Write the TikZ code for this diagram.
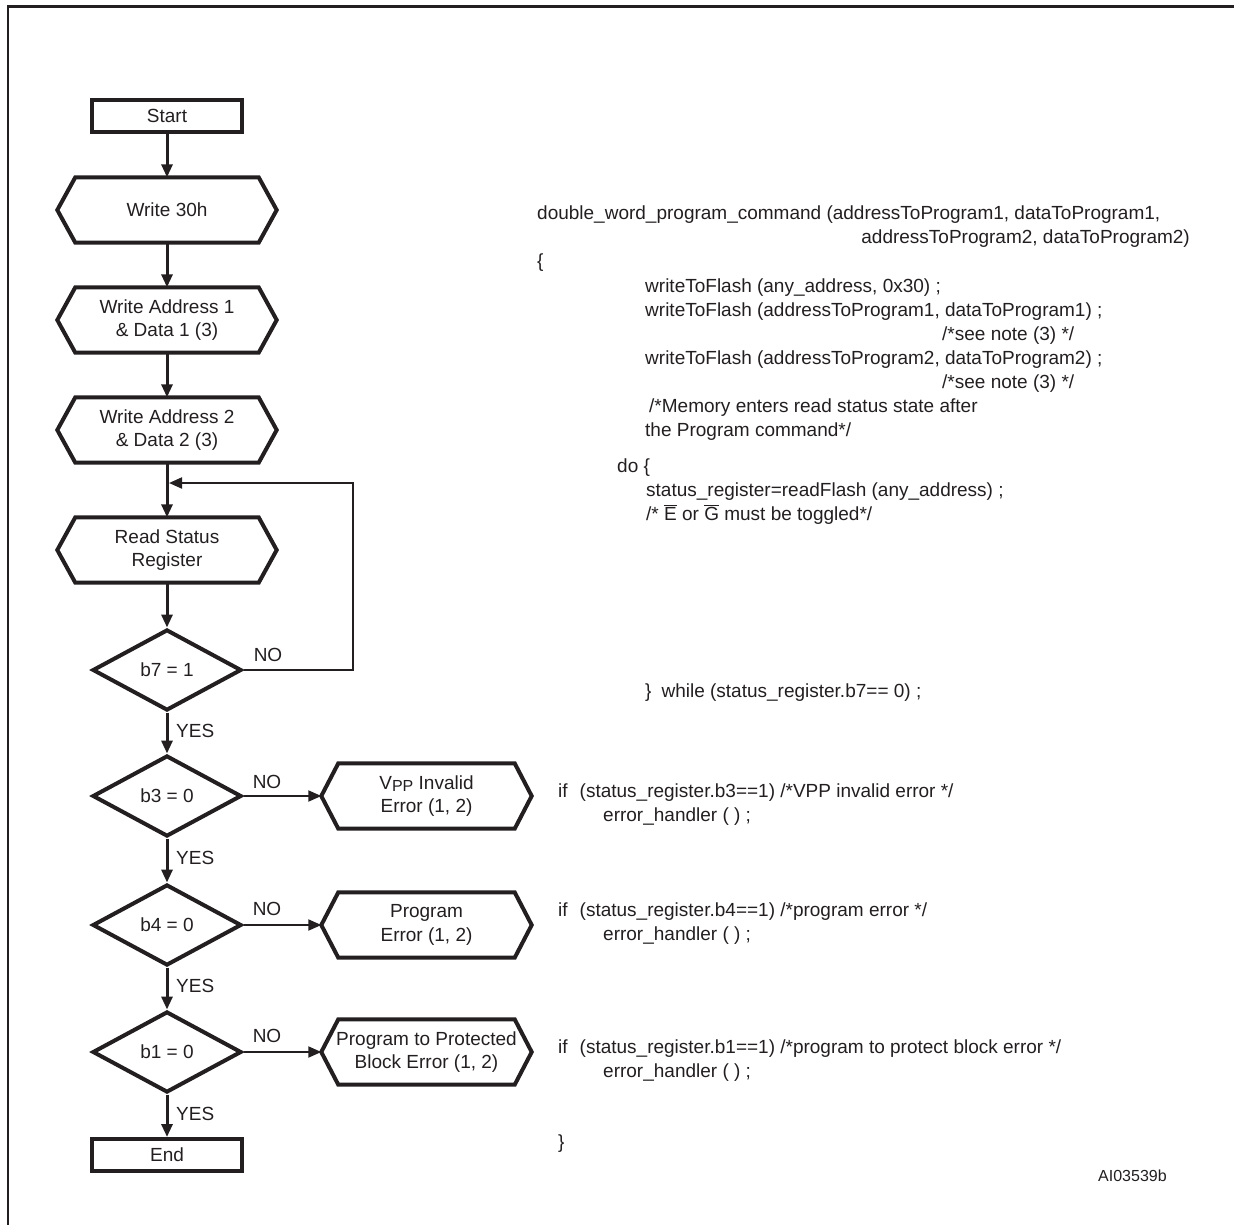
\documentclass[tikz,border=0pt]{standalone}
\usepackage{fontspec}
\setmainfont{Liberation Sans}
\usetikzlibrary{arrows.meta,shapes.geometric}
\definecolor{ink}{RGB}{35,31,32}
\tikzset{
 every node/.style={font=\fontsize{19}{23.5}\selectfont, text=ink},
 termbox/.style={draw=ink, line width=4pt, minimum width=150pt, minimum height=32pt, inner sep=0pt},
 hexbox/.style={minimum width=219pt, minimum height=65pt, inner sep=0pt, align=center},
 errbox/.style={minimum width=210pt, minimum height=65pt, inner sep=0pt, align=center},
 decision/.style={diamond, draw=ink, line width=4pt, minimum width=149pt, minimum height=81pt, inner sep=0pt},
 hexline/.style={draw=ink, line width=4pt, line join=miter},
 flow/.style={draw=ink, line width=3pt, -{Triangle[length=13pt,width=11pt]}},
 thinflow/.style={draw=ink, line width=2pt, -{Triangle[length=13pt,width=11pt]}},
 lbl/.style={inner sep=0pt, anchor=center},
 code/.style={inner sep=0pt, anchor=base west},
}
\begin{document}
\begin{tikzpicture}[x=1pt,y=-1pt]
\useasboundingbox (0,0) rectangle (1234,1224);
% frame
\draw[ink, line width=2.7pt] (8,1240) -- (8,6.5) -- (1240,6.5);

% flowchart nodes
\node[termbox] (start) at (167,116) {Start};
\node[hexbox] (w30) at (167,210) {Write 30h};
\node[hexbox] (wa1) at (167,320) {Write Address 1\\\& Data 1 (3)};
\node[hexbox] (wa2) at (167,430) {Write Address 2\\\& Data 2 (3)};
\node[hexbox] (rs) at (167,550) {Read Status\\Register};
\node[decision] (b7) at (167,670) {b7 = 1};
\node[decision] (b3) at (167,796) {b3 = 0};
\node[decision] (b4) at (167,925) {b4 = 0};
\node[decision] (b1) at (167,1052) {b1 = 0};
\node[termbox] (end) at (167,1155) {End};

\node[errbox] (vpp) at (426.5,796) {V\raisebox{-2pt}{\fontsize{16}{16}\selectfont PP} Invalid\\Error (1, 2)};
\node[errbox] (pe) at (426.5,925) {Program\\Error (1, 2)};
\node[errbox] (ptp) at (426.5,1052) {Program to Protected\\Block Error (1, 2)};

\foreach \n/\d in {w30/18,wa1/18,wa2/18,rs/18,vpp/17,pe/17,ptp/17}
  \draw[hexline] (\n.west) -- ([xshift=\d pt]\n.north west) -- ([xshift=-\d pt]\n.north east)
    -- (\n.east) -- ([xshift=-\d pt]\n.south east) -- ([xshift=\d pt]\n.south west) -- cycle;

% connectors
\draw[flow] (start) -- (w30);
\draw[flow] (w30) -- (wa1);
\draw[flow] (wa1) -- (wa2);
\draw[flow] (wa2) -- (rs);
\draw[flow] (rs) -- (b7);
\draw[flow] (b7) -- (b3);
\draw[flow] (b3) -- (b4);
\draw[flow] (b4) -- (b1);
\draw[flow] (b1) -- (end);

\coordinate (lc) at (353,483);
\coordinate (jn) at (169,483);
\draw[thinflow] (b7.east) -| (lc) -- (jn);

\draw[thinflow] (b3) -- (vpp);
\draw[thinflow] (b4) -- (pe);
\draw[thinflow] (b1) -- (ptp);

% labels
\node[lbl] (no7) at (268,655) {NO};
\node[lbl] (no3) at (267,782) {NO};
\node[lbl] (no4) at (267,909) {NO};
\node[lbl] (no1) at (267,1036) {NO};
\node[lbl, anchor=west] (y7) at (176,731) {YES};
\node[lbl, anchor=west] (y3) at (176,858) {YES};
\node[lbl, anchor=west] (y4) at (176,986) {YES};
\node[lbl, anchor=west] (y1) at (176,1114) {YES};

% code
\node[code] (c1) at (537,219) {double\_word\_program\_command (addressToProgram1, dataToProgram1,};
\node[code, anchor=base east] (c2) at (1190,243) {addressToProgram2, dataToProgram2)};
\node[code] (c3) at (537,267) {\{};
\node[code] (c4) at (645,292) {writeToFlash (any\_address, 0x30) ;};
\node[code] (c5) at (645,316) {writeToFlash (addressToProgram1, dataToProgram1) ;};
\node[code] (c6) at (942,340) {/*see note (3) */};
\node[code] (c7) at (645,364) {writeToFlash (addressToProgram2, dataToProgram2) ;};
\node[code] (c8) at (942,388) {/*see note (3) */};
\node[code] (c9) at (649,412) {/*Memory enters read status state after};
\node[code] (c10) at (645,436) {the Program command*/};
\node[code] (c11) at (617,472) {do \{};
\node[code] (c12) at (646,496) {status\_register=readFlash (any\_address) ;};
\node[code] (c13) at (646,520) {/* $\overline{\hbox{E}}$ or $\overline{\hbox{G}}$ must be toggled*/};
\node[code] (c14) at (645,697) {\}\hspace{10pt}while (status\_register.b7== 0) ;};
\node[code] (c15) at (558,797) {if\hspace{12pt}(status\_register.b3==1) /*VPP invalid error */};
\node[code] (c16) at (603,821) {error\_handler ( ) ;};
\node[code] (c17) at (558,916) {if\hspace{12pt}(status\_register.b4==1) /*program error */};
\node[code] (c18) at (603,940) {error\_handler ( ) ;};
\node[code] (c19) at (558,1053) {if\hspace{12pt}(status\_register.b1==1) /*program to protect block error */};
\node[code] (c20) at (603,1077) {error\_handler ( ) ;};
\node[code] (c21) at (558,1148) {\}};
\node[code, font=\fontsize{16}{16}\selectfont] (ai) at (1098,1181) {AI03539b};
\end{tikzpicture}
\end{document}
